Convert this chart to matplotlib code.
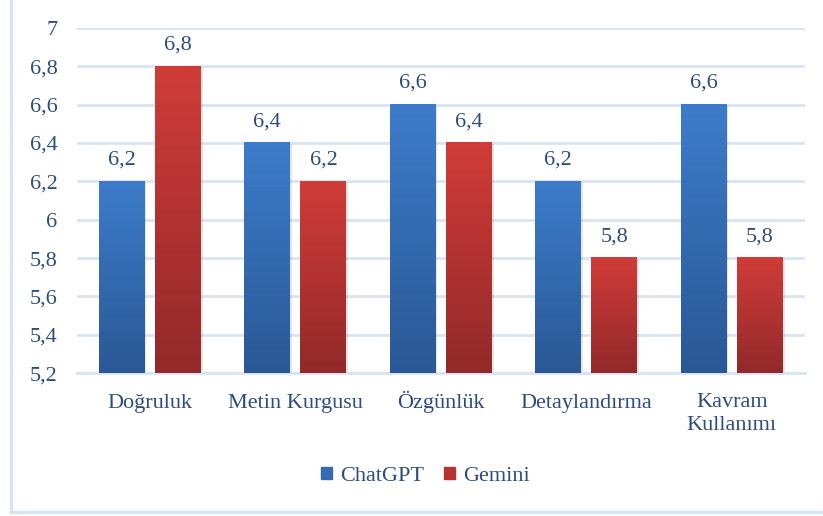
import numpy as np
import matplotlib.pyplot as plt
from matplotlib.patches import Rectangle
from matplotlib.colors import LinearSegmentedColormap

categories = ["Doğruluk", "Metin Kurgusu", "Özgünlük", "Detaylandırma", "Kavram\nKullanımı"]
chatgpt = [6.2, 6.4, 6.6, 6.2, 6.6]
gemini = [6.8, 6.2, 6.4, 5.8, 5.8]
yticks = [5.2, 5.4, 5.6, 5.8, 6.0, 6.2, 6.4, 6.6, 6.8, 7.0]

text_color = "#2E4C7C"
grid_color = "#D9E4F3"
fsize = 16
plt.rcParams["font.family"] = ["Liberation Serif", "DejaVu Serif"]

fig = plt.figure(figsize=(8.23, 5.16), dpi=100)
ax = fig.add_axes([0.0936, 0.277, 0.884, 0.6687])

x = np.arange(len(categories))
w = 0.316
off = 0.193
b1 = ax.bar(x - off, [v - 5.2 for v in chatgpt], w, bottom=5.2, color="#3A74BE", zorder=3)
b2 = ax.bar(x + off, [v - 5.2 for v in gemini], w, bottom=5.2, color="#C23A36", zorder=3)

blue_cm = LinearSegmentedColormap.from_list("b", ["#2A5896", "#3D7CCA"])
red_cm = LinearSegmentedColormap.from_list("r", ["#93292A", "#D03C38"])
grad = np.linspace(0, 1, 100).reshape(-1, 1)
for bars, cm in [(b1, blue_cm), (b2, red_cm)]:
    for b in bars:
        x0, y0 = b.get_x(), b.get_y()
        bw, bh = b.get_width(), b.get_height()
        # soft shadow
        ax.add_patch(Rectangle((x0 + 0.012, y0), bw, bh - 0.004, color="#000000",
                               alpha=0.10, zorder=2, lw=0))
        ax.imshow(grad, extent=[x0, x0 + bw, y0, y0 + bh], origin="lower",
                  cmap=cm, aspect="auto", zorder=4)
        b.set_visible(False)

for bars, vals in [(b1, chatgpt), (b2, gemini)]:
    for b, v in zip(bars, vals):
        ax.annotate(f"{v:.1f}".replace(".", ","), (b.get_x() + b.get_width() / 2, v),
                    xytext=(0, 8.5), textcoords="offset points", ha="center", va="bottom",
                    fontsize=fsize, color=text_color, zorder=5)

ax.set_xlim(-0.5, len(categories) - 0.5)
ax.set_ylim(5.2, 7.0)
ax.set_yticks(yticks)
ax.set_yticklabels([f"{t:.1f}".replace(".", ",").replace(",0", "") for t in yticks])
ax.set_xticks(x)
ax.set_xticklabels(categories, linespacing=1.3)
ax.tick_params(axis="both", length=0, labelsize=fsize, labelcolor=text_color)
ax.tick_params(axis="y", pad=14)
ax.tick_params(axis="x", pad=25)
# single-line labels sit on a common baseline, the two-line one hangs from the top
for tick, lab in zip(ax.xaxis.get_major_ticks(), ax.get_xticklabels()):
    if "\n" in lab.get_text():
        lab.set_va("top")
        tick.set_pad(14.5)
    else:
        lab.set_va("baseline")
ax.grid(axis="y", color=grid_color, lw=2, zorder=0)
for s in ["top", "right", "left"]:
    ax.spines[s].set_visible(False)
ax.spines["bottom"].set_color(grid_color)
ax.spines["bottom"].set_linewidth(2)

h1 = Rectangle((0, 0), 1, 1, color="#3569B0")
h2 = Rectangle((0, 0), 1, 1, color="#B53533")
fig.legend([h1, h2], ["ChatGPT", "Gemini"], loc="center", bbox_to_anchor=(0.517, 0.077),
           ncol=2, frameon=False, fontsize=fsize, labelcolor=text_color,
           handlelength=0.5, handleheight=0.5, handletextpad=0.35, columnspacing=0.9)

# chart area border
fig.add_artist(plt.Line2D([11 / 823, 11 / 823], [4 / 516, 1.0], transform=fig.transFigure,
                          color=grid_color, lw=2.5))
fig.add_artist(plt.Line2D([11 / 823, 1.0], [4 / 516, 4 / 516], transform=fig.transFigure,
                          color=grid_color, lw=2.5))

fig.savefig("out.png", dpi=100)
